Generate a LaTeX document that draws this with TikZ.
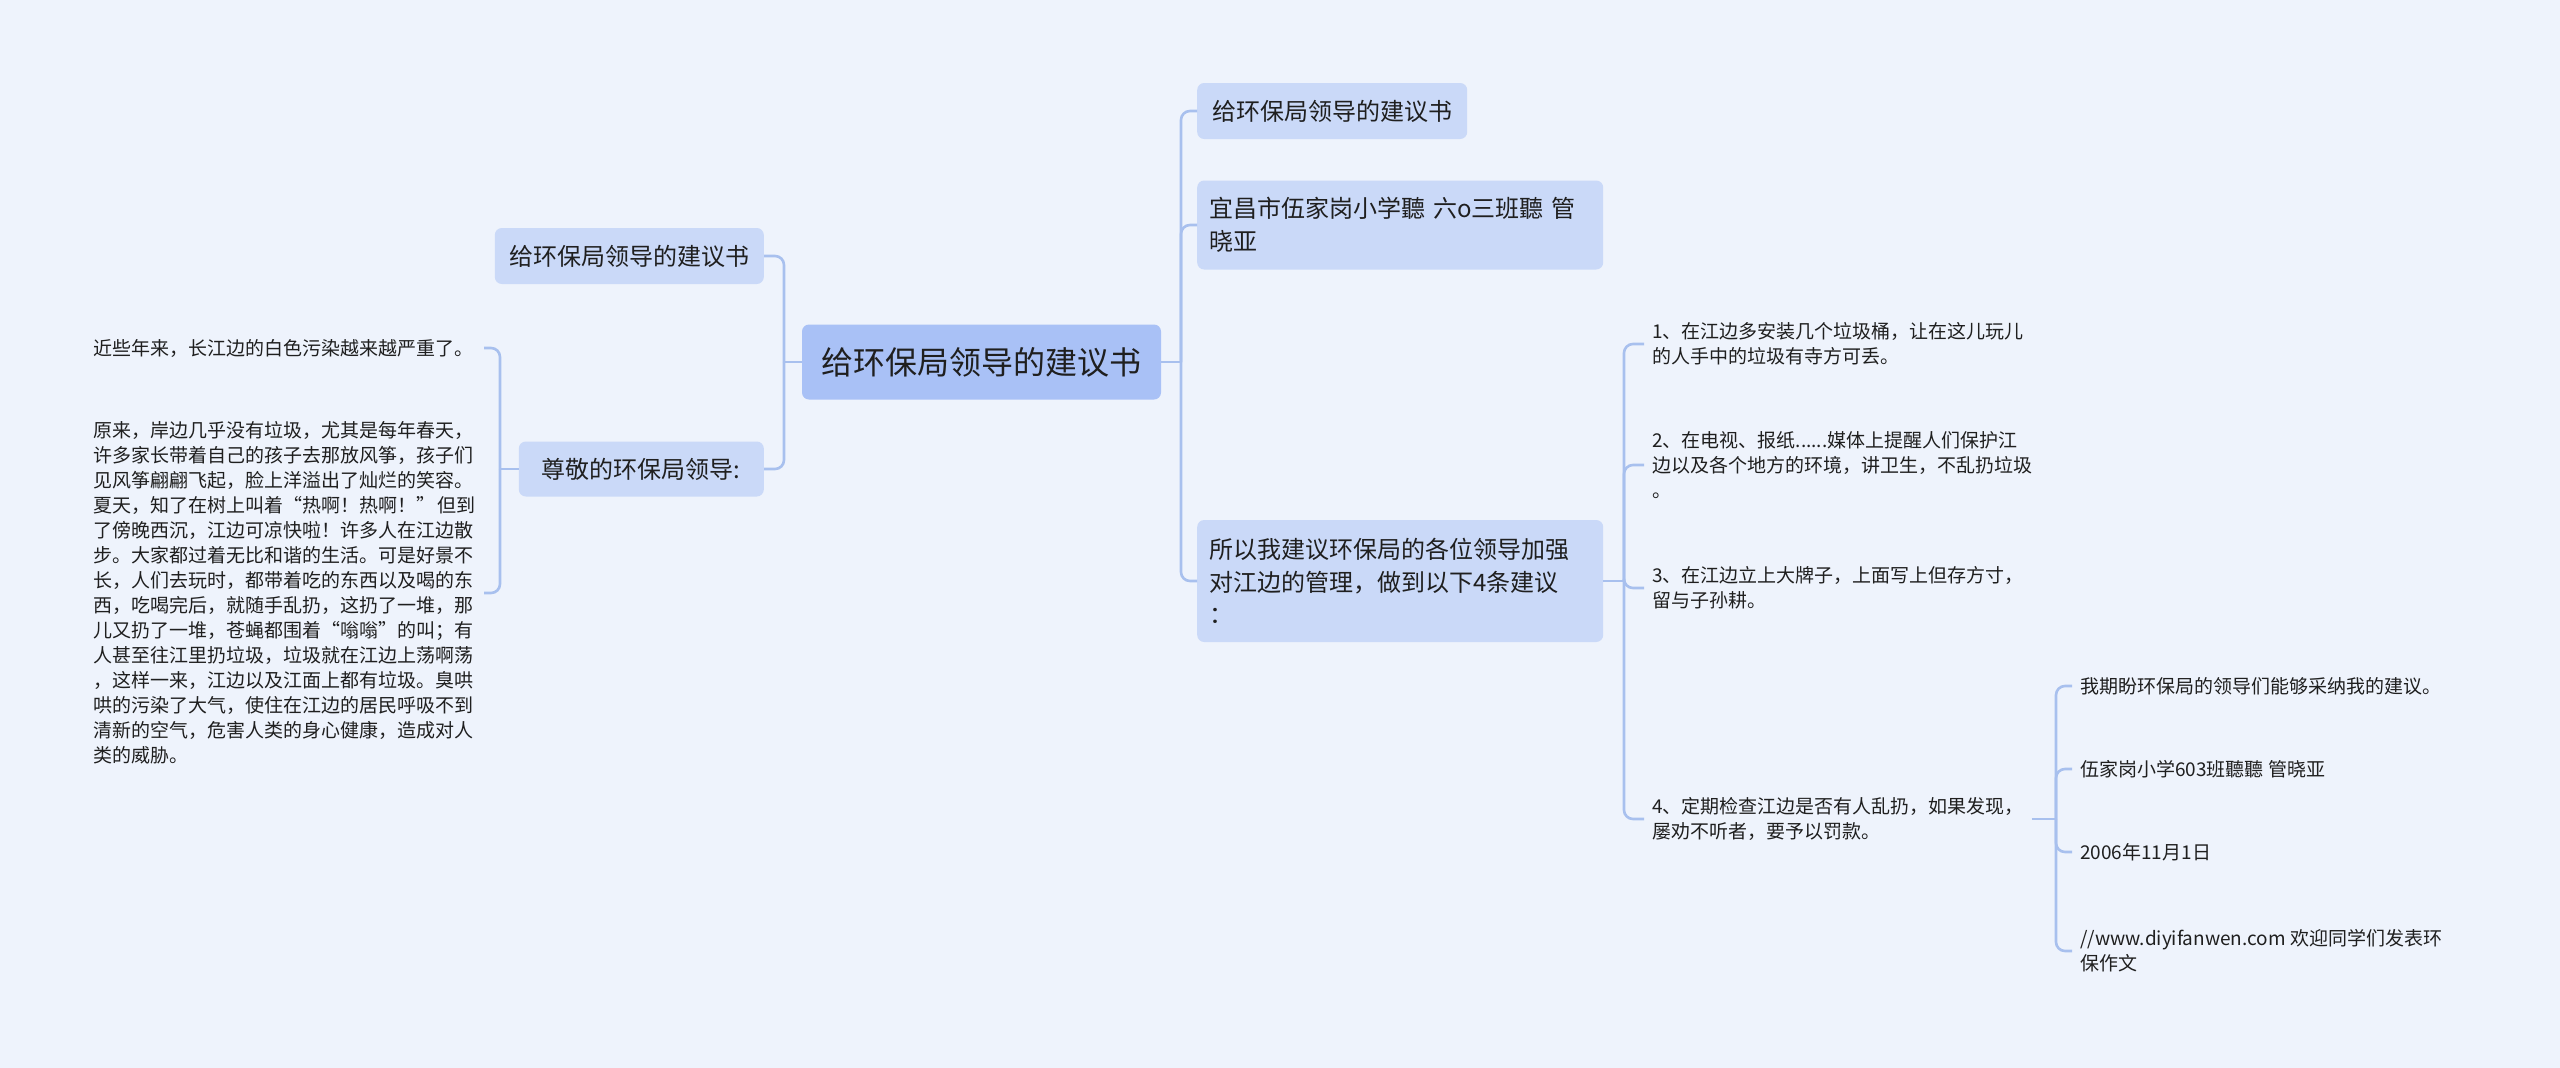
\documentclass[tikz,border=0pt]{standalone}
\usepackage{fontspec}
\setmainfont{Noto Sans CJK SC}
\definecolor{bgc}{HTML}{EEF3FC}
\definecolor{cfill}{HTML}{A9C1F6}
\definecolor{lonefill}{HTML}{CAD9F8}
\definecolor{lc}{HTML}{A8C0EE}
\definecolor{txt}{HTML}{1F1F1F}
\begin{document}
\begin{tikzpicture}[x=1pt,y=-1pt,
  central/.style={fill=cfill, rounded corners=7pt, minimum width=359pt, minimum height=75pt,
    font=\fontsize{32}{40}\selectfont, text=txt, inner sep=0pt},
  lone/.style={fill=lonefill, rounded corners=7pt, font=\fontsize{24}{32.5}\selectfont,
    text=txt, inner xsep=12pt, inner ysep=0pt, align=left},
  leaf/.style={font=\fontsize{19}{25}\selectfont, text=txt, inner xsep=8pt, inner ysep=2pt, align=left},
  link/.style={draw=lc, line width=2.6pt, rounded corners=9pt}]
\useasboundingbox[fill=bgc] (0,0) rectangle (2560,1068);

% central
\node[central] (c) at (981.5,362) {给环保局领导的建议书};

% right level 1
\node[lone, minimum width=270pt, minimum height=56pt, anchor=west] (r1) at (1197,111) {给环保局领导的建议书};
\node[lone, text width=382pt, minimum height=89pt, anchor=west] (r2) at (1197,225) {宜昌市伍家岗小学聽 六o三班聽 管\\晓亚};
\node[lone, text width=382pt, minimum height=122pt, anchor=west] (r3) at (1197,581) {所以我建议环保局的各位领导加强\\对江边的管理，做到以下4条建议\\：};

% left level 1
\node[lone, minimum width=269pt, minimum height=56pt, anchor=east] (l1) at (764,256) {给环保局领导的建议书};
\node[lone, minimum width=245pt, minimum height=55pt, anchor=east] (l2) at (764,469) {尊敬的环保局领导:};

% left level 2
\node[leaf, text width=382pt, anchor=east] (p1) at (484,348) {近些年来，长江边的白色污染越来越严重了。};
\node[leaf, text width=382pt, anchor=east] (p2) at (484,593) {原来，岸边几乎没有垃圾，尤其是每年春天，\\许多家长带着自己的孩子去那放风筝，孩子们\\见风筝翩翩飞起，脸上洋溢出了灿烂的笑容。\\\mbox{夏天，知了在树上叫着“热啊！热啊！”\kern0.1em 但到}\\了傍晚西沉，江边可凉快啦！许多人在江边散\\步。大家都过着无比和谐的生活。可是好景不\\长，人们去玩时，都带着吃的东西以及喝的东\\西，吃喝完后，就随手乱扔，这扔了一堆，那\\儿又扔了一堆，苍蝇都围着“嗡嗡”的叫；有\\人甚至往江里扔垃圾，垃圾就在江边上荡啊荡\\，这样一来，江边以及江面上都有垃圾。臭哄\\哄的污染了大气，使住在江边的居民呼吸不到\\清新的空气，危害人类的身心健康，造成对人\\类的威胁。};

% right level 2
\node[leaf, anchor=west] (i1) at (1644,344) {1、在江边多安装几个垃圾桶，让在这儿玩儿\\的人手中的垃圾有寺方可丢。};
\node[leaf, anchor=west] (i2) at (1644,465) {2、在电视、报纸......媒体上提醒人们保护江\\边以及各个地方的环境，讲卫生，不乱扔垃圾\\。};
\node[leaf, anchor=west] (i3) at (1644,588) {3、在江边立上大牌子，上面写上但存方寸，\\留与子孙耕。};
\node[leaf, anchor=west] (i4) at (1644,819) {4、定期检查江边是否有人乱扔，如果发现，\\屡劝不听者，要予以罚款。};

% right level 3
\node[leaf, anchor=west] (k1) at (2072,686) {我期盼环保局的领导们能够采纳我的建议。};
\node[leaf, anchor=west] (k2) at (2072,769) {伍家岗小学603班聽聽 管晓亚};
\node[leaf, anchor=west] (k3) at (2072,852) {2006年11月1日};
\node[leaf, anchor=west] (k4) at (2072,951) {//www.diyifanwen.com 欢迎同学们发表环\\保作文};

% junctions
\coordinate (rt) at (1181,362);
\coordinate (lt) at (784,362);
\coordinate (lt2) at (500,469);
\coordinate (rt2) at (1624,581);
\coordinate (rt3) at (2056,819);

% connectors
\draw[link] (c.east) -- (rt);
\draw[link] (rt) |- (r1.west);
\draw[link] (rt) |- (r2.west);
\draw[link] (rt) |- (r3.west);

\draw[link] (c.west) -- (lt);
\draw[link] (lt) |- (l1.east);
\draw[link] (lt) |- (l2.east);

\draw[link] (l2.west) -- (lt2);
\draw[link] (lt2) |- (p1.east);
\draw[link] (lt2) |- (p2.east);

\draw[link] (r3.east) -- (rt2);
\draw[link] (rt2) |- (i1.west);
\draw[link] (rt2) |- (i2.west);
\draw[link] (rt2) |- (i3.west);
\draw[link] (rt2) |- (i4.west);

\draw[link] (i4.east) -- (rt3);
\draw[link] (rt3) |- (k1.west);
\draw[link] (rt3) |- (k2.west);
\draw[link] (rt3) |- (k3.west);
\draw[link] (rt3) |- (k4.west);
\end{tikzpicture}
\end{document}
